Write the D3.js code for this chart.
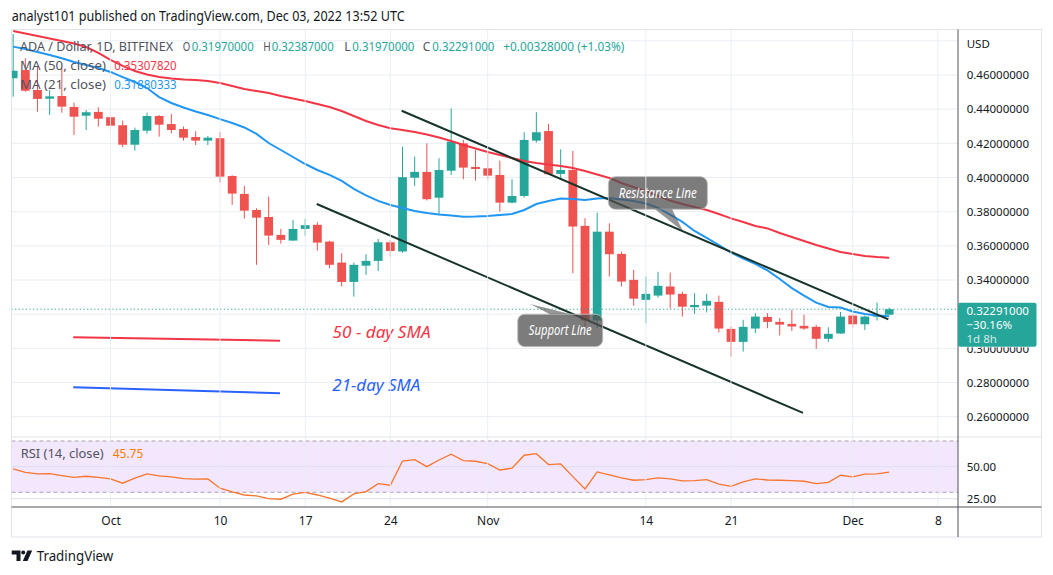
<!DOCTYPE html>
<html><head><meta charset="utf-8">
<script src="https://cdn.jsdelivr.net/npm/d3@7"></script>
<style>
html,body{margin:0;padding:0;background:#fff;}
svg{display:block;font-family:"Noto Sans",sans-serif;}
</style></head><body>
<svg id="c" width="1053" height="575"></svg>
<script>
// ---------------- DATA ----------------
const dates = ["09-23","09-24","09-25","09-26","09-27","09-28","09-29","09-30",
"10-01","10-02","10-03","10-04","10-05","10-06","10-07","10-08","10-09","10-10",
"10-11","10-12","10-13","10-14","10-15","10-16","10-17",
"10-18","10-19","10-20","10-21","10-22","10-23","10-24",
"10-25","10-26","10-27","10-28","10-29","10-30","10-31",
"11-01","11-02","11-03","11-04","11-05","11-06","11-07",
"11-08","11-09","11-10","11-11","11-12","11-13","11-14",
"11-15","11-16","11-17","11-18","11-19","11-20","11-21",
"11-22","11-23","11-24","11-25","11-26","11-27","11-28","11-29","11-30",
"12-01","12-02","12-03","12-04"];
const open = [.4581,.4629,.4512,.4461,.4477,.4413,.4362,.4384,
.4353,.4306,.4192,.4274,.4360,.4313,.4284,.4237,.4216,.4230,
.4009,.3904,.3810,.3769,.3664,.3631,.3699,
.3723,.3625,.3502,.3389,.3484,.3512,.3621,
.3567,.3999,.4033,.3882,.4040,.4200,.4062,
.4054,.4015,.3853,.3892,.4216,.4272,.4021,
.4044,.3717,.3163,.3683,.3553,.3401,.3284,
.3309,.3362,.3319,.3241,.3250,.3272,.3114,
.3038,.3116,.3184,.3155,.3143,.3132,.3126,.3056,.3087,
.3192,.3141,.3186,.3197];
const high = [.4840,.4698,.4653,.4512,.4639,.4438,.4395,.4411,
.4366,.4333,.4292,.4379,.4366,.4372,.4298,.4271,.4243,.4267,
.4013,.3951,.3820,.3888,.3699,.3752,.3758,
.3738,.3630,.3557,.3502,.3551,.3641,.3635,
.4180,.4122,.4200,.4113,.4405,.4220,.4161,
.4142,.4099,.3990,.4265,.4382,.4313,.4165,
.4155,.3762,.3794,.3732,.3566,.3459,.3420,
.3448,.3444,.3332,.3323,.3319,.3309,.3128,
.3167,.3206,.3206,.3177,.3225,.3198,.3138,.3124,.3213,
.3202,.3192,.3268,.32387];
const low = [.4473,.4502,.4385,.4366,.4379,.4249,.4278,.4298,
.4274,.4177,.4157,.4257,.4239,.4259,.4216,.4190,.4190,.3970,
.3840,.3759,.3489,.3605,.3613,.3628,.3660,
.3572,.3469,.3362,.3303,.3430,.3453,.3537,
.3560,.3951,.3865,.3781,.4015,.3990,.3982,
.3986,.3800,.3849,.3882,.4204,.4015,.3986,
.3440,.3128,.3118,.3420,.3362,.3250,.3147,
.3297,.3233,.3186,.3202,.3210,.3093,.2952,
.2981,.3089,.3118,.3075,.3102,.3108,.2997,.3038,.3085,
.3122,.3107,.3163,.3195];
const close = [.4625,.4508,.4460,.4475,.4415,.4356,.4382,.4344,
.4303,.4192,.4278,.4360,.4309,.4278,.4233,.4216,.4233,.4005,
.3906,.3806,.3765,.3660,.3635,.3699,.3721,
.3619,.3489,.3389,.3489,.3512,.3621,.3570,
.4002,.4033,.3873,.4044,.4210,.4058,.4050,
.4011,.3853,.3892,.4220,.4265,.4019,.4044,
.3713,.3163,.3683,.3551,.3391,.3291,.3319,
.3366,.3315,.3244,.3254,.3278,.3116,.3038,
.3126,.3186,.3155,.3139,.3128,.3116,.3056,.3085,.3186,
.3141,.3186,.3196,.32291];
const ma50 = [.4858,.4843,.4828,.4814,.4799,.4784,.4764,.4729,
.4688,.4653,.4623,.4603,.4588,.4580,.4574,.4571,.4565,.4553,
.4536,.4518,.4506,.4495,.4477,.4462,.4448,
.4430,.4413,.4389,.4360,.4331,.4307,.4288,
.4278,.4266,.4252,.4234,.4214,.4190,.4170,
.4149,.4132,.4114,.4097,.4085,.4076,.4067,
.4056,.4038,.4018,.3997,.3968,.3944,.3921,
.3892,.3865,.3845,.3827,.3810,.3786,.3761,
.3740,.3716,.3702,.3675,.3652,.3628,.3605,.3584,.3564,
.3552,.3541,.3535,.3531];
const ma21 = [.4766,.4752,.4735,.4717,.4698,.4676,.4659,.4641,
.4618,.4588,.4559,.4524,.4471,.4436,.4410,.4386,.4366,.4342,
.4319,.4293,.4255,.4202,.4161,.4120,.4079,
.4044,.4015,.3980,.3933,.3895,.3863,.3839,
.3822,.3804,.3792,.3783,.3778,.3771,.3772,
.3775,.3781,.3786,.3810,.3845,.3863,.3877,
.3874,.3868,.3877,.3880,.3871,.3863,.3848,
.3822,.3783,.3740,.3687,.3646,.3605,.3561,
.3526,.3494,.3456,.3406,.3353,.3309,.3268,.3242,.3239,
.3216,.3201,.3192,.3188];
const rsi = [48.2,45.6,44.3,44.5,43.0,41.7,42.5,41.7,
40.4,37.1,41.0,44.3,42.8,42.0,40.6,40.2,40.4,33.2,
30.3,27.9,27.2,25.1,24.6,28.5,30.0,
27.9,25.4,22.5,28.7,30.5,36.7,35.5,
54.4,55.5,50.0,55.2,59.7,54.7,54.2,
52.3,47.4,48.8,58.9,60.1,51.6,52.1,
42.2,32.6,45.9,43.5,41.2,39.4,39.9,
41.2,40.4,38.9,39.1,39.9,36.3,34.7,
38.1,40.4,39.6,39.4,39.1,38.6,36.7,37.8,43.3,
42.0,44.1,44.3,45.75];
const priceTicks = [0.26,0.28,0.30,0.34,0.36,0.38,0.40,0.42,0.44,0.46];
const priceGrid = [0.26,0.28,0.30,0.32,0.34,0.36,0.38,0.40,0.42,0.44,0.46,0.48];
const timeTicks = ["10-01","10-10","10-17","10-24","11-01","11-14","11-21","12-01","12-08"];
const timeLabels = ["Oct","10","17","24","Nov","14","21","Dec","8"];
const rsiTicks = [25,50];
const rsiLabels = ["25.00","50.00"];
const channelUpper = [["10-24T22:20",0.4391],["12-03T22:20",0.3170]];
const channelLower = [["10-17T22:50",0.3845],["11-26T22:00",0.2622]];
const sma50Marker = [["09-27T22:30",0.3065],["10-14T22:20",0.3045]];
const sma21Marker = [["09-27T22:30",0.2772],["10-14T22:20",0.2737]];
const lastPrice = 0.32291;

// ---------------- LAYOUT ----------------
const L=11.5, R=958, T=29.5, MB=437, RB=507, B=537, FR=1041.5;
const UP="#26a69a", DN="#ef5350", GRID="#e9eef4";
const parse = s => new Date("2022-"+s+(s.includes("T")?":00Z":"T00:00:00Z"));
const x = d3.scaleUtc().domain([parse("10-01"),parse("12-08")]).range([110.5,937.86]);
const y = d3.scaleLinear().domain([0.26,0.46]).range([416.7,75]);
const yR = d3.scaleLinear().domain([30,70]).range([492.3,441]);
const svg = d3.select("#c");
const defs = svg.append("defs");
defs.append("clipPath").attr("id","cm").append("rect").attr("x",L).attr("y",T).attr("width",R-L).attr("height",MB-T);
defs.append("clipPath").attr("id","cr").append("rect").attr("x",L).attr("y",MB).attr("width",R-L).attr("height",RB-MB);
// clip (in the tick's local coordinates) for the 0.30 label partly under the last-price box
defs.append("clipPath").attr("id","cp").append("rect").attr("x",0).attr("y",346.8-y(0.30)).attr("width",90).attr("height",20);

svg.append("rect").attr("width",1053).attr("height",575).attr("fill","#fff");

// header
svg.append("text").attr("x",11.7).attr("y",21).attr("font-size",14).attr("fill","#131722")
  .attr("textLength",393).attr("lengthAdjust","spacingAndGlyphs")
  .text("analyst101 published on TradingView.com, Dec 03, 2022 13:52 UTC");

// grid
const gm = svg.append("g").attr("clip-path","url(#cm)");
gm.selectAll("line.h").data(priceGrid).join("line")
  .attr("x1",L).attr("x2",R).attr("y1",d=>y(d)).attr("y2",d=>y(d))
  .attr("stroke",GRID).attr("stroke-width",1);
// RSI band
const gr = svg.append("g").attr("clip-path","url(#cr)");
gr.append("rect").attr("x",L).attr("width",R-L).attr("y",yR(70)).attr("height",yR(30)-yR(70)).attr("fill","#f3e7fd");
gr.selectAll("line.h").data(rsiTicks).join("line")
  .attr("x1",L).attr("x2",R).attr("y1",d=>yR(d)).attr("y2",d=>yR(d))
  .attr("stroke","#dcdff0").attr("stroke-width",1);
gr.selectAll("line.b").data([70,30]).join("line")
  .attr("x1",L).attr("x2",R).attr("y1",d=>yR(d)).attr("y2",d=>yR(d))
  .attr("stroke","#aaa1b4").attr("stroke-dasharray","4,3").attr("stroke-width",1);
// vertical grid
svg.append("g").selectAll("line").data(timeTicks).join("line")
  .attr("x1",d=>x(parse(d))).attr("x2",d=>x(parse(d))).attr("y1",T).attr("y2",RB)
  .attr("stroke",GRID).attr("stroke-width",1).attr("opacity",0.9);

// frame and separators
svg.append("rect").attr("x",L).attr("y",T).attr("width",FR-L).attr("height",B-T)
  .attr("fill","none").attr("stroke","#e0e3eb");
svg.append("line").attr("x1",L).attr("x2",FR).attr("y1",MB).attr("y2",MB).attr("stroke","#e0e3eb");
svg.append("line").attr("x1",L).attr("x2",FR).attr("y1",RB).attr("y2",RB).attr("stroke","#50535e");
svg.append("line").attr("x1",R).attr("x2",R).attr("y1",T).attr("y2",B).attr("stroke","#50535e");

// candles
const data = dates.map((d,i)=>({t:parse(d),o:open[i],h:high[i],l:low[i],c:close[i]}));
const bw = 8.8;
const gc = gm.append("g");
gc.selectAll("line").data(data).join("line")
  .attr("x1",d=>x(d.t)).attr("x2",d=>x(d.t)).attr("y1",d=>y(d.h)).attr("y2",d=>y(d.l))
  .attr("stroke",d=>d.c>=d.o?UP:DN).attr("stroke-width",1);
gc.selectAll("rect").data(data).join("rect")
  .attr("x",d=>x(d.t)-bw/2).attr("width",bw)
  .attr("y",d=>y(Math.max(d.o,d.c))).attr("height",d=>Math.max(1,Math.abs(y(d.o)-y(d.c))))
  .attr("fill",d=>d.c>=d.o?UP:DN);

// MAs
const lineP = d3.line().x(d=>x(d[0])).y(d=>y(d[1]));
gm.append("path").attr("d",lineP(dates.map((d,i)=>[parse(d),ma50[i]])))
  .attr("fill","none").attr("stroke","#f23645").attr("stroke-width",2);
gm.append("path").attr("d",lineP(dates.map((d,i)=>[parse(d),ma21[i]])))
  .attr("fill","none").attr("stroke","#2196f3").attr("stroke-width",2);

// last price dotted line
gm.append("line").attr("x1",L).attr("x2",R).attr("y1",y(lastPrice)).attr("y2",y(lastPrice))
  .attr("stroke",UP).attr("stroke-dasharray","1.2,2.4").attr("stroke-width",1);

// drawings
const seg = a => a.map(p=>[parse(p[0]),p[1]]);
[channelUpper,channelLower].forEach(a=>{
  gm.append("path").attr("d",lineP(seg(a))).attr("stroke","#17342b").attr("stroke-width",2).attr("fill","none");
});
gm.append("path").attr("d",lineP(seg(sma50Marker))).attr("stroke","#f23645").attr("stroke-width",2).attr("fill","none");
gm.append("path").attr("d",lineP(seg(sma21Marker))).attr("stroke","#2962ff").attr("stroke-width",2).attr("fill","none");
gm.append("text").attr("x",x(parse("10-19T06:00"))).attr("y",y(0.3058))
  .attr("font-size",15.5).attr("font-style","italic").attr("fill","#f23645")
  .attr("textLength",98).attr("lengthAdjust","spacingAndGlyphs").text("50 - day SMA");
gm.append("text").attr("x",x(parse("10-19T05:40"))).attr("y",y(0.2750))
  .attr("font-size",15.5).attr("font-style","italic").attr("fill","#2962ff")
  .attr("textLength",88).attr("lengthAdjust","spacingAndGlyphs").text("21-day SMA");

// callouts
function callout(tipDate,tipPrice,box,ptr,label,tw){
  const tx=x(parse(tipDate)), ty=y(tipPrice);
  const g=gm.append("g");
  const bx=tx+box[0], by=ty+box[1], bwid=box[2]-box[0], bh=box[3]-box[1];
  g.append("rect").attr("x",bx).attr("y",by).attr("width",bwid).attr("height",bh).attr("rx",7)
    .attr("fill","rgba(80,80,80,0.75)").attr("stroke","rgba(190,190,190,0.9)").attr("stroke-width",1);
  g.append("path").attr("d",`M${tx+ptr[0]},${ty+ptr[1]} L${tx},${ty} L${tx+ptr[2]},${ty+ptr[1]} Z`)
    .attr("fill","rgba(80,80,80,0.6)");
  g.append("text").attr("x",bx+bwid/2).attr("y",by+bh/2+4.7).attr("text-anchor","middle")
    .attr("font-size",13.5).attr("font-style","italic").attr("fill","#fff")
    .attr("textLength",tw).attr("lengthAdjust","spacingAndGlyphs").text(label);
}
callout("11-17T02:00",0.3683,[-75,-55,24,-22.4],[-28.3,-22.4,-11.3],"Resistance Line",78);
callout("11-04T11:30",0.3260,[-12.3,10.3,72.7,42.7],[20,10.3,41],"Support Line",63);

// RSI line
gr.append("path").attr("d",d3.line().x(d=>x(d[0])).y(d=>yR(d[1]))(dates.map((d,i)=>[parse(d),rsi[i]])))
  .attr("fill","none").attr("stroke","#f7752d").attr("stroke-width",1.3);

// legend
function lg(t,xx,yy,w,col,fs){
  svg.append("text").attr("x",xx).attr("y",yy).attr("font-size",fs||13).attr("fill",col)
    .attr("textLength",w).attr("lengthAdjust","spacingAndGlyphs").text(t);
}
const LG="#50535e";
lg("ADA / Dollar, 1D, BITFINEX",20,50.5,153,LG);
lg("O",182.7,50.5,7.5,LG); lg("0.31970000",191.7,50.5,62,UP);
lg("H",263.3,50.5,7.5,LG); lg("0.32387000",271.7,50.5,62,UP);
lg("L",344.3,50.5,6.5,LG); lg("0.31970000",352.3,50.5,62,UP);
lg("C",422.7,50.5,7.5,LG); lg("0.32291000",432.3,50.5,62,UP);
lg("+0.00328000 (+1.03%)",503.3,50.5,121,UP);
lg("MA (50, close)",20,70,86,LG); lg("0.35307820",114.3,70,62.4,"#f23645");
lg("MA (21, close)",20,88.5,86,LG); lg("0.31880333",114.3,88.5,62.4,"#2196f3");
lg("RSI (14, close)",20.7,457.5,83,LG,12.5); lg("45.75",112.7,457.5,30.6,"#f57c00",12.5);

// price axis
const pa = svg.append("g").attr("transform",`translate(${R},0)`)
  .call(d3.axisRight(y).tickValues(priceTicks).tickSize(0).tickPadding(8.7).tickFormat(d3.format(".8f")));
pa.select(".domain").remove();
pa.selectAll("text").attr("font-size",11.5).attr("fill","#131722").attr("font-family","Noto Sans");
pa.selectAll(".tick").filter(d=>Math.abs(d-0.30)<1e-9).attr("clip-path","url(#cp)");
svg.append("text").attr("x",966.7).attr("y",48).attr("font-size",11.5).attr("fill","#131722").text("USD");
const ra = svg.append("g").attr("transform",`translate(${R},0)`)
  .call(d3.axisRight(yR).tickValues(rsiTicks).tickSize(0).tickPadding(8.7).tickFormat((d,i)=>rsiLabels[i]));
ra.select(".domain").remove();
ra.selectAll("text").attr("font-size",11.5).attr("fill","#131722").attr("font-family","Noto Sans");

// last price label
svg.append("rect").attr("x",R).attr("y",302.7).attr("width",78.5).attr("height",44).attr("rx",2).attr("fill",UP);
svg.append("text").attr("x",966.5).attr("y",315).attr("font-size",11.5).attr("fill","#fff").text("0.32291000");
svg.append("text").attr("x",966.5).attr("y",329).attr("font-size",11.5).attr("fill","#fff").text("\u221230.16%");
svg.append("text").attr("x",966.5).attr("y",342.5).attr("font-size",11.5).attr("fill","rgba(255,255,255,0.8)").text("1d 8h");

// time axis
const ta = svg.append("g").attr("transform",`translate(0,${RB})`)
  .call(d3.axisBottom(x).tickValues(timeTicks.map(parse)).tickSize(0).tickPadding(9).tickFormat((d,i)=>timeLabels[i]));
ta.select(".domain").remove();
ta.selectAll("text").attr("font-size",12).attr("fill","#131722").attr("font-family","Noto Sans");

// logo
const lgG = svg.append("g").attr("fill","#131722");
lgG.append("path").attr("d","M11.7,550.5 H20.5 V561 H16.5 V554.5 H11.7 Z");
lgG.append("circle").attr("cx",23.2).attr("cy",552.6).attr("r",2);
lgG.append("path").attr("d","M27.5,550.5 H32.2 L27.5,561 H22.8 Z");
svg.append("text").attr("x",36.7).attr("y",561).attr("font-size",15).attr("fill","#131722")
  .attr("textLength",76.6).attr("lengthAdjust","spacingAndGlyphs").text("TradingView");
</script>
</body></html>
